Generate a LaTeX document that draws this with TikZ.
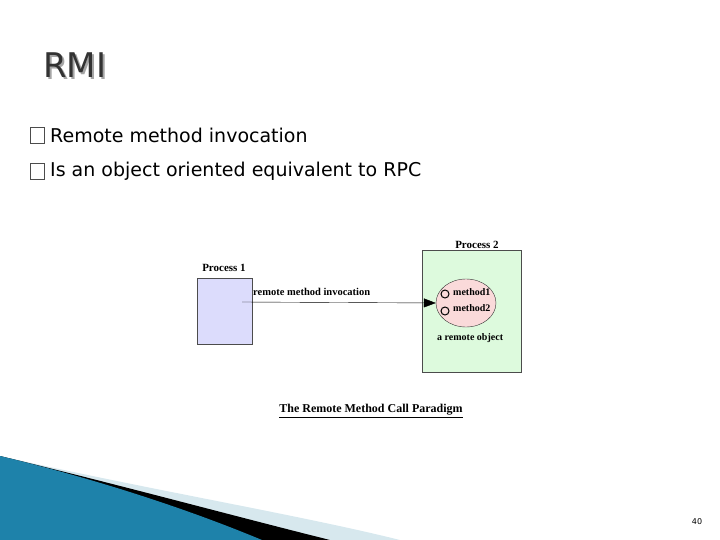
\documentclass[tikz,border=0pt]{standalone}
\usepackage{fontspec}
\setmainfont{Liberation Serif}
\newfontfamily\slidefont{DejaVu Sans}
\usetikzlibrary{arrows.meta,shapes.geometric}
\definecolor{procone}{RGB}{220,220,252}
\definecolor{proctwo}{RGB}{221,250,221}
\definecolor{objpink}{RGB}{250,218,218}
\definecolor{swoosh}{RGB}{30,130,170}
\definecolor{swooshlight}{RGB}{215,232,238}
\tikzstyle{proc} = [draw=black!70, line width=0.6pt]
\tikzstyle{lbl} = [font=\bfseries\fontsize{11}{12}\selectfont, inner sep=0pt]
\tikzstyle{bullet} = [font=\slidefont\fontsize{19}{22}\selectfont, anchor=west, inner sep=0pt]
\begin{document}
\begin{tikzpicture}[x=1pt,y=-1pt]
		\useasboundingbox (0,0) rectangle (720,540);
		% title and bullets
		\node (title) [anchor=west, inner sep=0pt, text=black!35, font=\slidefont\fontsize{34}{36}\selectfont] at (45,67) {RMI};
		\node (titlefg) [anchor=west, inner sep=0pt, text=black!80, font=\slidefont\fontsize{34}{36}\selectfont] at (43,65) {RMI};
		\draw[black!70] (30,127) rectangle (44,143);
		\node (b1) [bullet] at (50,135) {Remote method invocation};
		\draw[black!70] (30,163) rectangle (44,179);
		\node (b2) [bullet] at (50,171) {Is an object oriented equivalent to RPC};
		% processes
		\node (p1) [proc, fill=procone, minimum width=55, minimum height=66, inner sep=0pt] at (224.5,311) {};
		\node (p1lbl) [lbl, anchor=south] at (224,272) {Process 1};
		\node (p2) [proc, fill=proctwo, minimum width=99, minimum height=122, inner sep=0pt] at (471.5,311) {};
		\node (p2lbl) [lbl, anchor=south] at (477,249) {Process 2};
		\node (obj) [ellipse, draw=black!80, fill=objpink, minimum width=60, minimum height=48, inner sep=0pt] at (466,303) {};
		\node (m1) [circle, draw, line width=1pt, minimum size=8, inner sep=0pt] at (445,294) {};
		\node (m2) [circle, draw, line width=1pt, minimum size=8, inner sep=0pt] at (445,311) {};
		\node (m1lbl) [lbl, font=\bfseries\fontsize{10}{12}\selectfont, anchor=west] at (453,292) {method1};
		\node (m2lbl) [lbl, font=\bfseries\fontsize{10}{12}\selectfont, anchor=west] at (453,308) {method2};
		\node (objlbl) [lbl, font=\bfseries\fontsize{10}{12}\selectfont, anchor=west] at (437,338) {a remote object};
		\coordinate (start) at (242,302);
		\draw[-{Triangle[length=12pt,width=9pt]}] (start) -- (obj.west);
		\node (call) [lbl, font=\bfseries\fontsize{10.5}{12}\selectfont, anchor=west] at (253,292) {remote method invocation};
		\node (cap) [lbl, font=\bfseries\fontsize{12}{14}\selectfont] at (371,411) {\underline{The Remote Method Call Paradigm}};
		% bottom swoosh
		\fill[swooshlight] (0,456) .. controls (150,490) and (300,515) .. (400,540) -- (0,540) -- cycle;
		\fill[black] (0,456) .. controls (120,485) and (230,515) .. (330,540) -- (0,540) -- cycle;
		\fill[swoosh] (0,456) .. controls (100,480) and (190,510) .. (262,540) -- (0,540) -- cycle;
		\node (page) [font=\slidefont\fontsize{8}{9}\selectfont] at (697,522) {40};
	\end{tikzpicture}
\end{document}
